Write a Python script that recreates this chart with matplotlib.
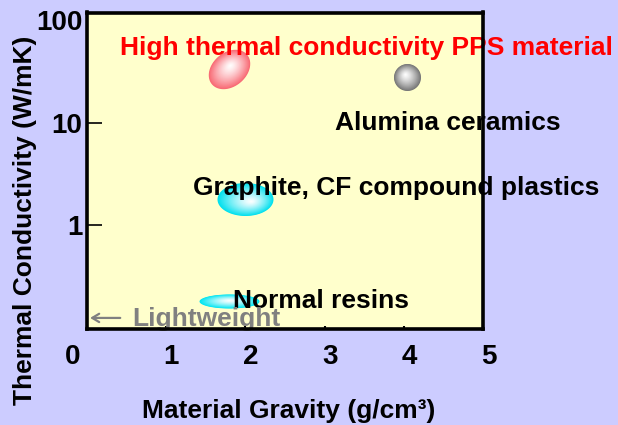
import numpy as np
import matplotlib.pyplot as plt
import matplotlib.transforms as mtransforms
from matplotlib.path import Path
from matplotlib.colors import to_rgb
from matplotlib.ticker import NullLocator

plt.rcParams['font.family'] = ['Liberation Sans', 'DejaVu Sans']
plt.rcParams['font.weight'] = 'bold'

# data
materials = ["High thermal conductivity PPS material", "Alumina ceramics",
             "Graphite, CF compound plastics", "Normal resins"]
gravity = [1.79, 4.04, 2.0, 1.79]          # g/cm3
conductivity = [33, 28, 1.8, 0.18]         # W/mK
x_ticks = [0, 1, 2, 3, 4, 5]
y_ticks = [1, 10, 100]
y_tick_labels = ["1", "10", "100"]

# blob looks (pixels)
blob_w = [46, 27, 56, 60]
blob_h = [34, 27, 33, 14]
blob_angle = [40, 0, 0, 0]
blob_color = ['#f86a74', '#767676', '#00e0ee', '#00e6f2']
blob_hl = [(1, 4), (-2, 3), (6, -2), (0, 1)]
text_color = ['#ff0000', 'black', 'black', 'black']
text_pos = [(0.42, 45.9), (3.13, 8.49), (1.34, 1.96), (1.845, 0.155)]

fig = plt.figure(figsize=(6.18, 4.25), dpi=100, facecolor='#ccccff')
ax = fig.add_axes([86.5/618, 1-329/425, 397/618, 316.5/425])
ax.set_facecolor('#ffffcc')
ax.set_yscale('log')
ax.set_xlim(0, 5)
ax.set_ylim(0.096, 119)


def ellipse(w, h, ang, off, k):
    t = np.linspace(0, 2*np.pi, 80)
    x = k*w/2*np.cos(t)
    y = k*h/2*np.sin(t)
    a = np.radians(ang)
    xr = x*np.cos(a) - y*np.sin(a) + off[0]*(1-k)
    yr = x*np.sin(a) + y*np.cos(a) + off[1]*(1-k)
    v = np.column_stack([xr, yr])
    size = 2*np.abs(v).max()*72/100
    return Path(v, closed=True), size


# gradient blobs: stacked markers fading to white
for i in range(len(gravity)):
    edge = np.array(to_rgb(blob_color[i]))
    for k in np.linspace(1, 0.04, 30):
        p, sz = ellipse(blob_w[i], blob_h[i], blob_angle[i], blob_hl[i], k)
        f = k**1.3
        c = edge*f + np.ones(3)*(1-f)
        ax.scatter([gravity[i]], [conductivity[i]], marker=p, s=sz**2,
                   color=c, linewidths=0, zorder=2)

for i in range(len(materials)):
    ax.text(text_pos[i][0], text_pos[i][1], materials[i], color=text_color[i],
            fontsize=19, ha='left', va='baseline', zorder=5, clip_on=False)

# lightweight hint with a thin arrow
ax.annotate("", xy=(0.009, 0.035), xytext=(0.085, 0.035), xycoords='axes fraction',
            arrowprops=dict(arrowstyle='->,head_length=0.5,head_width=0.3',
                            color='#808080', lw=1.6, shrinkA=0, shrinkB=0), zorder=5)
ax.text(0.115, 0.0095, "Lightweight", color='#808080', fontsize=19,
        ha='left', va='baseline', zorder=5, transform=ax.transAxes)

ax.set_xticks(x_ticks, [str(v) for v in x_ticks])
ax.set_yticks(y_ticks, y_tick_labels)
ax.yaxis.set_minor_locator(NullLocator())
ax.tick_params(axis='y', direction='in', length=11, width=1.2, pad=3, labelsize=20)
ax.tick_params(axis='x', direction='in', length=2.5, width=1.5, pad=11, labelsize=20)
ax.yaxis.get_major_ticks()[2].tick1line.set_visible(False)

for j, lab in enumerate(ax.get_xticklabels()):
    dx = -14 if j == 0 else 5
    lab.set_transform(lab.get_transform() +
                      mtransforms.ScaledTranslation(dx/100, 0, fig.dpi_scale_trans))

for s in ax.spines.values():
    s.set_linewidth(2.6)
    s.set_zorder(6)

fig.text(289/618, 1-418/425, "Material Gravity (g/cm³)", fontsize=19,
         ha='center', va='baseline')
fig.text(25/618, 1-220/425, "Thermal Conductivity (W/mK)", fontsize=19,
         ha='center', va='center', rotation=90)

fig.savefig('out.png', dpi=100, facecolor=fig.get_facecolor())
